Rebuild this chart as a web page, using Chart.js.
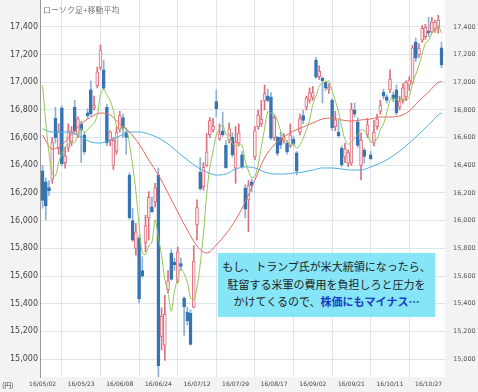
<!DOCTYPE html>
<html lang="ja">
<head>
<meta charset="utf-8">
<title>ローソク足+移動平均</title>
<script src="https://cdn.jsdelivr.net/npm/chart.js@4.4.1/dist/chart.umd.min.js"></script>
<style>
  html, body { margin: 0; padding: 0; background: #f3f3f3; }
  #wrap { position: relative; width: 478px; height: 392px; overflow: hidden; }
  #chart { display: block; }
  .ttl { position: absolute; left: 43px; top: 4px; font: 8px "Noto Sans CJK JP", sans-serif; color: #777; }
  .yen { position: absolute; left: 2px; top: 380px; font: 7px "Noto Sans CJK JP", sans-serif; color: #444; }
  .memo {
    position: absolute; left: 218px; top: 253px; width: 217px; height: 64px;
    box-sizing: border-box; padding-top: 5px; background: #86e5f6;
    font: 11px "Noto Sans CJK JP", sans-serif; line-height: 17.5px;
    text-align: center; color: #222; white-space: nowrap;
  }
  .memo b { color: #1b3cc6; font-weight: 700; }
</style>
</head>
<body>
<div id="wrap">
  <canvas id="chart" width="478" height="392"></canvas>
  <div class="ttl">ローソク足+移動平均</div>
  <div class="yen">(円)</div>
  <div class="memo">もし、トランプ氏が米大統領になったら、<br>駐留する米軍の費用を負担しろと圧力を<br>かけてくるので、<b>株価にもマイナス…</b></div>
</div>
<script>
// ローソク足 (2016/05/02 - 2016/11/02)
const opens = [
  16360, 16280, 16240, 16300, 16740, 16520, 16815, 16420, 16530, 16570,
  16820, 16620, 16700, 16620, 16780, 16945, 16815, 16975, 17105, 17090,
  16820, 16580, 16400, 16500, 16660, 16745, 16640, 16330, 16000, 15800,
  15875, 15640, 15840, 16020, 16100, 16135, 16330, 15160, 15100, 15500,
  15765, 15700, 15560, 15690, 15440, 15340, 15330, 15375, 15970, 16350,
  16245, 16400, 16620, 16655, 16860, 16590, 16650, 16545, 16583, 16605,
  16380, 16560, 16475, 16235, 16150, 16280, 16460, 16680, 16700, 16870,
  16900, 16895, 16600, 16605, 16600, 16580, 16560, 16540, 16590, 16490,
  16640, 16760, 16820, 16870, 16890, 17160, 17040, 17030, 17000, 16950,
  16870, 16680, 16640, 16525, 16460, 16415, 16415, 16800, 16715, 16400,
  16510, 16620, 16475, 16560, 16680, 16790, 16930, 16895, 16945, 16910,
  16945, 16820, 16870, 16894, 16980, 17000, 17290, 17200, 17305, 17330,
  17370, 17365, 17380, 17400, 17250
];
const highs = [
  16400, 16310, 16290, 16600, 16820, 16700, 16830, 16530, 16700, 16680,
  16870, 16750, 16720, 16640, 16810, 17010, 16900, 17110, 17270, 17160,
  16840, 16650, 16600, 16680, 16790, 16770, 16660, 16345, 16090, 15980,
  15890, 15740, 16040, 16210, 16170, 16270, 16380, 15370, 15460, 15640,
  15790, 15730, 15810, 15730, 15450, 15375, 15355, 15820, 16150, 16455,
  16420, 16630, 16745, 16740, 16945, 16700, 16785, 16580, 16705, 16635,
  16680, 16700, 16500, 16260, 16290, 16300, 16680, 16800, 16870, 16980,
  16950, 16925, 16760, 16610, 16640, 16630, 16580, 16700, 16610, 16500,
  16770, 16800, 16900, 16960, 16970, 17180, 17120, 17040, 17010, 16990,
  16880, 16790, 16725, 16540, 16560, 16510, 16850, 16850, 16745, 16635,
  16525, 16740, 16500, 16725, 16770, 16870, 16950, 16910, 17090, 16930,
  16980, 16900, 16990, 17010, 17040, 17270, 17320, 17280, 17410, 17420,
  17470, 17470, 17450, 17485, 17290
];
const lows = [
  16090, 16005, 16180, 16270, 16560, 16480, 16400, 16380, 16500, 16540,
  16630, 16600, 16420, 16480, 16740, 16760, 16800, 16960, 17090, 16950,
  16540, 16540, 16370, 16480, 16640, 16600, 16480, 16010, 15850, 15750,
  15405, 15590, 15775, 15860, 16060, 16100, 14870, 15065, 14990, 15480,
  15570, 15640, 15550, 15640, 15170, 15245, 15100, 15370, 15860, 16220,
  16220, 16390, 16600, 16640, 16750, 16580, 16610, 16380, 16560, 16460,
  16270, 16540, 16380, 16020, 15920, 16210, 16440, 16660, 16680, 16800,
  16860, 16585, 16580, 16470, 16520, 16560, 16480, 16530, 16540, 16330,
  16620, 16700, 16800, 16850, 16870, 17030, 17020, 16850, 16940, 16920,
  16650, 16650, 16600, 16390, 16420, 16390, 16400, 16750, 16530, 16295,
  16415, 16600, 16440, 16540, 16660, 16770, 16880, 16850, 16925, 16860,
  16765, 16800, 16850, 16870, 16940, 16990, 17150, 17180, 17290, 17310,
  17330, 17355, 17360, 17355, 17105
];
const closes = [
  16147, 16106, 16216, 16565, 16600, 16646, 16412, 16466, 16652, 16644,
  16646, 16736, 16654, 16498, 16757, 16772, 16834, 17075, 17234, 16955,
  16562, 16642, 16580, 16640, 16760, 16668, 16601, 16019, 15859, 15919,
  15434, 15599, 15965, 16169, 16065, 16238, 14952, 15309, 15323, 15566,
  15575, 15682, 15775, 15669, 15379, 15276, 15106, 15708, 16095, 16231,
  16385, 16497, 16723, 16681, 16810, 16627, 16620, 16383, 16664, 16476,
  16569, 16635, 16391, 16083, 16254, 16254, 16650, 16764, 16735, 16919,
  16869, 16596, 16745, 16486, 16545, 16598, 16497, 16620, 16555, 16360,
  16737, 16725, 16887, 16926, 16925, 17037, 17081, 17012, 16958, 16965,
  16672, 16729, 16614, 16405, 16519, 16492, 16807, 16770, 16544, 16583,
  16465, 16693, 16449, 16640, 16735, 16835, 16899, 16870, 17024, 16880,
  16780, 16860, 16960, 17000, 17017, 17250, 17175, 17245, 17390, 17400,
  17355, 17435, 17435, 17450, 17125
];

// 5日移動平均 (毎日)
const ma5 = [
  16979, 16712, 16485, 16340, 16323, 16422, 16484, 16534, 16551, 16564,
  16564, 16629, 16666, 16636, 16658, 16683, 16703, 16763, 16910, 16950,
  16908, 16870, 16795, 16683, 16658, 16679, 16671, 16559, 16395, 16213,
  15966, 15766, 15755, 15817, 15846, 16007, 15878, 15747, 15577, 15478,
  15345, 15491, 15584, 15653, 15616, 15556, 15441, 15428, 15513, 15683,
  15905, 16183, 16386, 16503, 16619, 16668, 16692, 16624, 16621, 16554,
  16542, 16545, 16547, 16431, 16360, 16310, 16320, 16401, 16531, 16664,
  16787, 16777, 16773, 16723, 16648, 16594, 16574, 16545, 16558, 16521,
  16549, 16595, 16653, 16727, 16840, 16900, 16971, 16996, 17003, 17011,
  16938, 16867, 16788, 16677, 16588, 16552, 16567, 16595, 16623, 16656,
  16651, 16628, 16567, 16578, 16588, 16659, 16700, 16782, 16867, 16888,
  16879, 16871, 16879, 16867, 16898, 16990, 17056, 17123, 17203, 17282,
  17302, 17354, 17393, 17408, 17357
];

// 25日・75日移動平均 (3日おきに読み取り)
const maSlowIdx = [0, 3, 6, 9, 12, 15, 18, 21, 24, 27, 30, 33, 36, 39, 42, 45, 48, 51, 54, 57, 60,
  63, 66, 69, 72, 75, 78, 81, 84, 87, 90, 93, 96, 99, 102, 105, 108, 111, 114, 117, 120, 123, 124];
const ma25 = [16619, 16518, 16547, 16626, 16699, 16749, 16778, 16764, 16699, 16641, 16554, 16439,
  16330, 16200, 16063, 15932, 15817, 15766, 15824, 15904, 16005, 16135, 16294, 16453, 16547, 16605,
  16648, 16677, 16706, 16735, 16742, 16728, 16720, 16728, 16735, 16749, 16749, 16757, 16793, 16865,
  16930, 17000, 17005];
const ma75 = [16663, 16641, 16641, 16634, 16605, 16569, 16561, 16583, 16612, 16641, 16641, 16626,
  16598, 16554, 16496, 16439, 16388, 16352, 16330, 16337, 16373, 16388, 16381, 16352, 16337, 16337,
  16344, 16352, 16366, 16381, 16381, 16373, 16366, 16366, 16388, 16417, 16453, 16504, 16561, 16626,
  16692, 16764, 16778];

const tickIdx = [0, 12, 24, 36, 48, 60, 72, 84, 96, 108, 120];
const tickLabels = ["16/05/02", "16/05/23", "16/06/08", "16/06/24", "16/07/12", "16/07/29",
  "16/08/17", "16/09/02", "16/09/21", "16/10/11", "16/10/27"];
const yTicks = [15000, 15200, 15400, 15600, 15800, 16000, 16200, 16400, 16600, 16800, 17000, 17200, 17400];

const UP_LINE = "#de6f7d";
const UP_FILL = "#fde9ec";
const DOWN_FILL = "#3674b2";
const DOWN_WICK = "#8db0d6";
const GRID = "#dde3ef";

const idx = closes.map((_, i) => i);
const isUp = idx.map(i => closes[i] >= opens[i]);

const fondo = {
  id: "fondo",
  beforeDraw(chart) {
    const { ctx, chartArea: a } = chart;
    ctx.save();
    ctx.fillStyle = "#f3f3f3";
    ctx.fillRect(0, 0, chart.width, chart.height);
    ctx.fillStyle = "#ffffff";
    ctx.fillRect(a.left, a.top, a.right - a.left, a.bottom - a.top);
    ctx.restore();
  }
};

function setYTicks(s) { s.ticks = yTicks.map(v => ({ value: v })); }
function fmt(v) { return Number(v).toLocaleString("en-US"); }

new Chart(document.getElementById("chart"), {
  type: "bar",
  data: {
    datasets: [
      {
        type: "line", label: "5日", order: 1,
        data: ma5.map((v, i) => ({ x: i, y: v })),
        borderColor: "#92c75a", borderWidth: 1, pointRadius: 0, tension: 0.3
      },
      {
        type: "line", label: "25日", order: 1,
        data: maSlowIdx.map((x, k) => ({ x, y: ma25[k] })),
        borderColor: "#e8675e", borderWidth: 1, pointRadius: 0, cubicInterpolationMode: "monotone"
      },
      {
        type: "line", label: "75日", order: 1,
        data: maSlowIdx.map((x, k) => ({ x, y: ma75[k] })),
        borderColor: "#4cb0e2", borderWidth: 1, pointRadius: 0, cubicInterpolationMode: "monotone"
      },
      {
        label: "実体", order: 2, grouped: false,
        data: idx.map(i => ({ x: i, y: [opens[i], closes[i]] })),
        backgroundColor: isUp.map(u => u ? UP_FILL : DOWN_FILL),
        borderColor: isUp.map(u => u ? UP_LINE : DOWN_FILL),
        borderWidth: 1, borderSkipped: false, barThickness: 3, minBarLength: 2
      },
      {
        label: "ヒゲ", order: 3, grouped: false,
        data: idx.map(i => ({ x: i, y: [lows[i], highs[i]] })),
        backgroundColor: isUp.map(u => u ? UP_LINE : DOWN_WICK),
        borderWidth: 0, barThickness: 1
      }
    ]
  },
  options: {
    responsive: false,
    animation: false,
    layout: { padding: 0 },
    plugins: { legend: { display: false }, tooltip: { enabled: false } },
    scales: {
      x: {
        type: "linear", min: -0.8, max: 125.1, offset: false,
        grid: { color: GRID, drawTicks: false },
        border: { display: false },
        ticks: {
          autoSkip: false, maxRotation: 0, padding: 4,
          color: "#444", font: { family: "DejaVu Sans", size: 6 },
          callback: (v, i) => tickLabels[i]
        },
        afterBuildTicks: s => { s.ticks = tickIdx.map(v => ({ value: v })); },
        afterFit: s => { s.height = 15; s.paddingLeft = 0; s.paddingRight = 0; }
      },
      y: {
        position: "left", min: 14870, max: 17595,
        grid: { color: GRID, drawTicks: false },
        border: { display: true, color: "#9a9a9a", width: 1 },
        ticks: { padding: 2, color: "#444", font: { family: "DejaVu Sans", size: 8 }, callback: fmt },
        afterBuildTicks: setYTicks,
        afterFit: s => { s.width = 40; s.paddingTop = 0; s.paddingBottom = 0; }
      },
      y2: {
        position: "right", min: 14870, max: 17595,
        grid: { display: false, drawTicks: false },
        border: { display: false },
        ticks: { padding: 8, color: "#555", font: { family: "DejaVu Sans", size: 6.5 }, callback: fmt },
        afterBuildTicks: setYTicks,
        afterFit: s => { s.width = 33; s.paddingTop = 0; s.paddingBottom = 0; }
      }
    }
  },
  plugins: [fondo]
});
</script>
</body>
</html>
